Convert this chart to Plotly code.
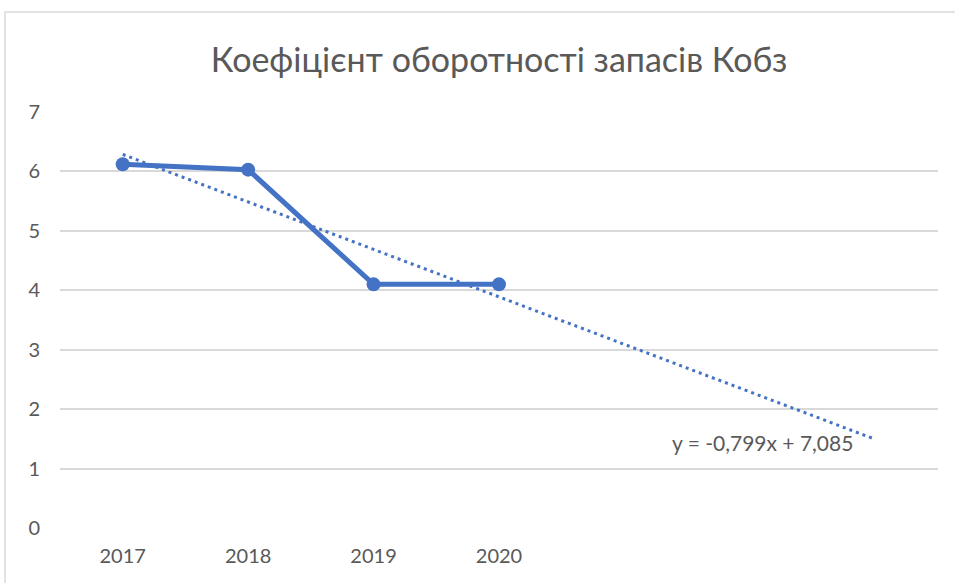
import numpy as np
import plotly.graph_objects as go

years = ["2017", "2018", "2019", "2020"]
values = [6.12, 6.03, 4.1, 4.1]
forecast_periods = 3
title_text = "Коефіцієнт оборотності запасів Кобз"

x_idx = np.arange(1, len(years) + 1)
slope, intercept = np.polyfit(x_idx, values, 1)
trend_x = np.arange(1, len(years) + forecast_periods + 1)
trend_y = slope * trend_x + intercept
eq_text = "y = {:.3f}x + {:.3f}".format(slope, intercept).replace(".", ",")

blue = "#4472C4"
grey = "#595959"
font_family = "Lato, 'Open Sans', sans-serif"

fig = go.Figure()
fig.add_trace(go.Scatter(x=trend_x, y=trend_y, mode="lines",
                         line=dict(color=blue, width=3, dash="3px,4px"),
                         hoverinfo="skip", showlegend=False))
fig.add_trace(go.Scatter(x=x_idx, y=values, mode="lines+markers",
                         line=dict(color=blue, width=5),
                         marker=dict(color=blue, size=14),
                         showlegend=False))

L, R, T, B = 60, 17, 112, 55
W, H = 955, 583
pw, ph = W - L - R, H - T - B

fig.add_annotation(x=trend_x[-1], y=trend_y[-1], xref="x", yref="y",
                   text=eq_text, showarrow=False, xanchor="right",
                   yanchor="middle", xshift=-20, yshift=-3,
                   font=dict(size=21, color=grey, family=font_family))

fig.add_shape(type="rect", xref="paper", yref="paper",
              x0=(5 - L) / pw, x1=(W + 20 - L) / pw,
              y0=-(B + 20) / ph, y1=(H - B - 12) / ph,
              line=dict(color="#D9D9D9", width=1.5), fillcolor="rgba(0,0,0,0)",
              layer="below")

fig.update_layout(
    width=W, height=H,
    margin=dict(l=L, r=R, t=T, b=B),
    paper_bgcolor="white", plot_bgcolor="white",
    title=dict(text=title_text, x=0.5, xref="paper", xanchor="center",
               y=(H - 60) / H, yanchor="middle",
               font=dict(size=34, color=grey, family=font_family)),
    xaxis=dict(range=[0.5, len(trend_x) + 0.5], tickvals=list(x_idx), ticktext=years,
               showgrid=False, zeroline=False, showline=False, ticks="",
               ticklabelstandoff=14,
               tickfont=dict(size=20, color=grey, family=font_family)),
    yaxis=dict(range=[0, 7], dtick=1, showgrid=True, gridcolor="#D9D9D9", gridwidth=1.5,
               zeroline=False, showline=False, ticks="", ticklabelstandoff=19,
               tickfont=dict(size=20, color=grey, family=font_family)),
)

fig.write_html("out.html", config={"displayModeBar": False},
               post_script="document.body.style.margin='0';document.body.style.overflow='hidden';")
